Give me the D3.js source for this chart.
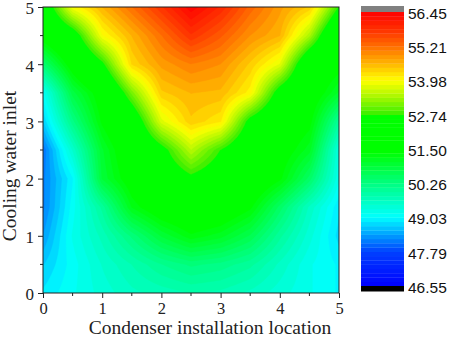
<!DOCTYPE html>
<html>
<head>
<meta charset="utf-8">
<script src="https://cdn.jsdelivr.net/npm/d3@7"></script>
<style>
  html, body { margin: 0; padding: 0; background: #fff; }
  svg { display: block; }
</style>
</head>
<body>
<svg id="chart" width="450" height="338"></svg>
<script>
// ---------------- DATA ----------------
const xValues = [0, 0.5, 1, 1.5, 2, 2.5, 3, 3.5, 4, 4.5, 5];   // Condenser installation location
const yValues = [0, 0.5, 1, 1.5, 2, 2.5, 3, 3.5, 4, 4.5, 5];   // Cooling water inlet
// z values, one row per y (row 0 = y 0), columns follow xValues
const zRows = [
  [48.9, 49.15, 49.4, 49.6, 49.7, 49.8, 49.75, 49.6, 49.4, 49.2, 49.0],
  [48.7, 49.1, 49.5, 49.8, 50.1, 50.3, 50.2, 50.0, 49.6, 49.2, 49.0],
  [48.4, 49.2, 49.7, 50.3, 50.9, 51.3, 51.1, 50.7, 50.0, 49.4, 48.8],
  [48.2, 49.1, 50.0, 51.2, 51.7, 51.95, 51.8, 51.4, 50.5, 49.6, 48.9],
  [48.2, 49.0, 50.9, 51.6, 52.2, 52.6, 52.3, 51.9, 51.4, 50.5, 49.2],
  [48.1, 49.5, 51.0, 51.8, 52.5, 53.5, 52.72, 52.0, 51.6, 51.1, 49.3],
  [48.7, 50.2, 51.4, 52.1, 53.75, 54.4, 54.15, 52.5, 51.8, 51.45, 50.0],
  [49.1, 50.8, 51.6, 53.1, 54.4, 54.6, 54.55, 54.05, 52.4, 51.7, 51.0],
  [50.4, 51.6, 52.6, 54.3, 54.8, 55.05, 54.9, 54.4, 53.8, 51.9, 51.5],
  [51.6, 52.3, 53.95, 54.6, 55.2, 55.8, 55.4, 54.9, 54.6, 53.4, 51.5],
  [52.1, 53.95, 54.6, 55.2, 55.8, 56.4, 55.95, 55.3, 54.8, 54.4, 52.7]
];
const axisTicks = [0, 1, 2, 3, 4, 5];
const colorbarLabels = ["46.55", "47.79", "49.03", "50.26", "51.50", "52.74", "53.98", "55.21", "56.45"];
const zMin = 46.55, zMax = 56.45;
const levelsPerLabel = 8;
// colour palette stops (value -> colour)
const paletteValues = [46.55, 47.79, 49.03, 50.26, 51.4, 52.74, 52.8, 53.4, 53.98, 54.6, 55.21, 55.8, 56.45];
const paletteColors = ["#0000ff", "#0040ff", "#00ffff", "#00ff80", "#00ff00", "#00ff00", "#40f000", "#aaf800", "#ffff00", "#ffb400", "#ff6e00", "#ff3200", "#ff0000"];

// ---------------- LAYOUT ----------------
const svg = d3.select("#chart");
const plot = { left: 43, right: 339, top: 7, bottom: 293 };
const xScale = d3.scaleLinear().domain([0, 5]).range([plot.left, plot.right]);
const yScale = d3.scaleLinear().domain([0, 5]).range([plot.bottom, plot.top]);
const color = d3.scaleLinear().domain(paletteValues).range(paletteColors).interpolate(d3.interpolateRgb);

const nLevels = levelsPerLabel * (colorbarLabels.length - 1);
const levelStep = (zMax - zMin) / nLevels;
const thresholds = d3.range(nLevels).map(i => zMin + i * levelStep);

// ---------------- SURFACE SAMPLING (bilinear over the data grid) ----------------
const fine = 201;
const fstep = 5 / (fine - 1);
function sampleZ(x, y) {
  const gx = Math.min(Math.max(x / 0.5, 0), xValues.length - 1);
  const gy = Math.min(Math.max(y / 0.5, 0), yValues.length - 1);
  const i0 = Math.min(Math.floor(gx), xValues.length - 2), j0 = Math.min(Math.floor(gy), yValues.length - 2);
  const tx = gx - i0, ty = gy - j0;
  const a = zRows[j0][i0], b = zRows[j0][i0 + 1], c = zRows[j0 + 1][i0], d = zRows[j0 + 1][i0 + 1];
  return a * (1 - tx) * (1 - ty) + b * tx * (1 - ty) + c * (1 - tx) * ty + d * tx * ty;
}
const grid = new Array(fine * fine);
for (let j = 0; j < fine; j++) for (let i = 0; i < fine; i++) grid[j * fine + i] = sampleZ(i * fstep, j * fstep);

const contours = d3.contours().size([fine, fine]).thresholds(thresholds)(grid);
const proj = d3.geoTransform({
  point: function (cx, cy) { this.stream.point(xScale((cx - 0.5) * fstep), yScale((cy - 0.5) * fstep)); }
});
const path = d3.geoPath(proj);

svg.append("defs").append("clipPath").attr("id", "clip")
  .append("rect").attr("x", plot.left).attr("y", plot.top)
  .attr("width", plot.right - plot.left).attr("height", plot.bottom - plot.top);

svg.append("g").attr("clip-path", "url(#clip)")
  .selectAll("path").data(contours).join("path")
  .attr("d", path)
  .attr("fill", d => color(d.value + levelStep / 2))
  .attr("stroke", d => color(d.value + levelStep / 2))
  .attr("stroke-width", 0.4);

// ---------------- AXES ----------------
const fontSerif = "'Liberation Serif', 'Times New Roman', serif";
const xAxis = d3.axisBottom(xScale).tickValues(axisTicks).tickSize(5).tickSizeOuter(0).tickFormat(d3.format("d"));
const yAxis = d3.axisLeft(yScale).tickValues(axisTicks).tickSize(5).tickSizeOuter(0).tickFormat(d3.format("d"));
const minor = d3.range(0.5, 5, 1);

const gx = svg.append("g").attr("transform", `translate(0,${plot.bottom})`).call(xAxis);
gx.selectAll(".minor").data(minor).join("line").attr("class", "minor")
  .attr("x1", d => xScale(d)).attr("x2", d => xScale(d)).attr("y1", 0).attr("y2", 3).attr("stroke", "#222");
const gy = svg.append("g").attr("transform", `translate(${plot.left},0)`).call(yAxis);
gy.selectAll(".minor").data(minor).join("line").attr("class", "minor")
  .attr("y1", d => yScale(d)).attr("y2", d => yScale(d)).attr("x1", 0).attr("x2", -3).attr("stroke", "#222");

[gx, gy].forEach(g => {
  g.select(".domain").remove();
  g.selectAll(".tick line").attr("stroke", "#222");
  g.selectAll(".tick text").attr("font-family", fontSerif).attr("font-size", "16.5px").attr("fill", "#222");
});
gy.selectAll(".tick text").attr("font-size", "17px");
gx.selectAll(".tick text").attr("y", 9);
gy.selectAll(".tick text").attr("x", -9).attr("dy", "0.4em");

svg.append("rect").attr("x", plot.left).attr("y", plot.top)
  .attr("width", plot.right - plot.left).attr("height", plot.bottom - plot.top)
  .attr("fill", "none").attr("stroke", "#222").attr("stroke-width", 1);

svg.append("text").attr("x", 210).attr("y", 333.5).attr("text-anchor", "middle")
  .attr("font-family", fontSerif).attr("font-size", "19.5px").attr("fill", "#222")
  .text("Condenser installation location");
svg.append("text").attr("transform", "translate(16,166) rotate(-90)").attr("text-anchor", "middle")
  .attr("font-family", fontSerif).attr("font-size", "19.5px").attr("fill", "#222")
  .text("Cooling water inlet");

// ---------------- COLOUR BAR ----------------
const cb = { left: 361, right: 404 };
const cbScale = d3.scaleLinear().domain([zMin, zMax]).range([286, 12]);
const gcb = svg.append("g");
gcb.selectAll("rect.band").data(thresholds).join("rect").attr("class", "band")
  .attr("x", cb.left).attr("width", cb.right - cb.left)
  .attr("y", d => cbScale(d + levelStep))
  .attr("height", d => cbScale(d) - cbScale(d + levelStep) + 0.3)
  .attr("fill", d => color(d + levelStep / 2));
gcb.append("rect").attr("x", cb.left).attr("width", cb.right - cb.left)
  .attr("y", 6).attr("height", cbScale(zMax) - 6).attr("fill", "#808080");
gcb.append("rect").attr("x", cb.left).attr("width", cb.right - cb.left)
  .attr("y", cbScale(zMin)).attr("height", 5.5).attr("fill", "#000");
gcb.selectAll("text").data(colorbarLabels).join("text")
  .attr("x", 408).attr("y", d => cbScale(+d) + 1.5).attr("dy", "0.35em")
  .attr("font-family", "'Liberation Sans', Arial, sans-serif").attr("font-size", "15.5px").attr("fill", "#111")
  .text(d => d);
</script>
</body>
</html>
